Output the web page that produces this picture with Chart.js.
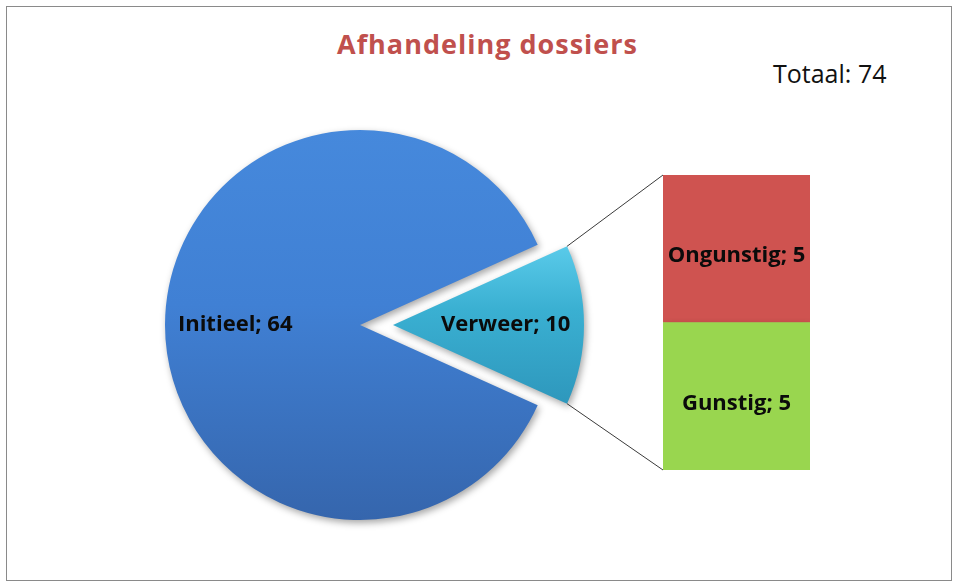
<!DOCTYPE html>
<html>
<head>
<meta charset="utf-8">
<title>Afhandeling dossiers</title>
<script src="https://cdn.jsdelivr.net/npm/chart.js@4.4.1/dist/chart.umd.min.js"></script>
<style>
	html, body { margin: 0; padding: 0; background: #fff; }
	#wrap { position: relative; width: 958px; height: 583px; overflow: hidden; }
	#frame { position: absolute; left: 6px; top: 6px; width: 944px; height: 573px; border: 1px solid #8a8a8a; }
	#wrap canvas { position: absolute; left: 0; top: 0; }
	#title { position: absolute; left: 0; width: 975px; top: 25px; text-align: center; letter-spacing: 1px;
		font: bold 27px "Open Sans", Lato, sans-serif; color: #C0504D; }
	#total { position: absolute; left: 773px; top: 56px; font: 25px "Open Sans", Lato, sans-serif; color: #111; }
</style>
</head>
<body>
<div id="wrap">
	<div id="frame"></div>
	<div id="title"></div>
	<div id="total"></div>
	<canvas id="pie-main" width="958" height="583"></canvas>
	<canvas id="pie-split" width="958" height="583"></canvas>
	<canvas id="bar-split" width="958" height="583"></canvas>
</div>
<script>
// :: data
var chartTitle = 'Afhandeling dossiers';
var totalText = 'Totaal';
var pieLabels = ['Initieel', 'Verweer'];
var pieValues = [64, 10];
var barLabels = ['Gunstig', 'Ongunstig'];
var barValues = [5, 5];

// :: 1.0 Helpers
// :: 2.0 Pie (Initieel)
// :: 3.0 Pie (Verweer, uitgetrokken)
// :: 4.0 Bar of pie

(function () {
	'use strict';

	var total = pieValues.reduce(function (a, b) { return a + b; }, 0);
	var barTotal = barValues.reduce(function (a, b) { return a + b; }, 0);
	// verweer gecentreerd op 3 uur
	var rotation = 90 + 180 * pieValues[1] / total;
	var font = '"Open Sans", Lato, sans-serif';

	document.getElementById('title').textContent = chartTitle;
	document.getElementById('total').textContent = totalText + ': ' + total;

	// :: 1.0 Helpers
	function gradient(chart, y0, y1, stops) {
		var g = chart.ctx.createLinearGradient(0, y0, 0, y1);
		stops.forEach(function (s) { g.addColorStop(s[0], s[1]); });
		return g;
	}

	var shadow = {
		id: 'shadow',
		beforeDatasetsDraw: function (chart) {
			var ctx = chart.ctx;
			ctx.save();
			ctx.shadowColor = 'rgba(0, 0, 0, 0.35)';
			ctx.shadowBlur = 7;
			ctx.shadowOffsetX = 2;
			ctx.shadowOffsetY = 3;
		},
		afterDatasetsDraw: function (chart) {
			chart.ctx.restore();
		}
	};

	function pieLabel(index, factor) {
		return {
			id: 'pieLabel' + index,
			afterDraw: function (chart) {
				var arc = chart.getDatasetMeta(0).data[index];
				var mid = (arc.startAngle + arc.endAngle) / 2;
				var r = arc.outerRadius * factor;
				var ctx = chart.ctx;
				ctx.save();
				ctx.font = 'bold 22px ' + font;
				ctx.fillStyle = '#0b0b0b';
				ctx.textAlign = 'center';
				ctx.textBaseline = 'middle';
				ctx.fillText(pieLabels[index] + '; ' + pieValues[index], arc.x + Math.cos(mid) * r, arc.y + Math.sin(mid) * r);
				ctx.restore();
			}
		};
	}

	// :: 2.0 Pie (Initieel)
	new Chart(document.getElementById('pie-main'), {
		type: 'pie',
		data: {
			labels: pieLabels,
			datasets: [{
				data: pieValues,
				backgroundColor: function (c) {
					if (c.dataIndex !== 0) return 'rgba(0,0,0,0)';
					var a = c.chart.chartArea;
					if (!a) return '#4281D6';
					return gradient(c.chart, a.top, a.bottom, [[0, '#4689DC'], [0.45, '#4080D4'], [1, '#3565AC']]);
				},
				borderWidth: 0
			}]
		},
		options: {
			responsive: false,
			animation: false,
			rotation: rotation,
			radius: 195,
			layout: { padding: { left: 160, right: 398, top: 125, bottom: 58 } },
			plugins: { legend: { display: false }, tooltip: { enabled: false } },
			events: []
		},
		plugins: [shadow, pieLabel(0, 0.64)]
	});

	// :: 3.0 Pie (Verweer, uitgetrokken)
	var pieSplit = new Chart(document.getElementById('pie-split'), {
		type: 'pie',
		data: {
			labels: pieLabels,
			datasets: [{
				data: pieValues,
				backgroundColor: function (c) {
					if (c.dataIndex !== 1) return 'rgba(0,0,0,0)';
					var a = c.chart.chartArea;
					if (!a) return '#36A9C8';
					var cy = (a.top + a.bottom) / 2;
					return gradient(c.chart, cy - 80, cy + 80, [[0, '#5ACBEA'], [0.4, '#3AB0D2'], [1, '#2E97BC']]);
				},
				borderWidth: 0
			}]
		},
		options: {
			responsive: false,
			animation: false,
			rotation: rotation,
			radius: 191,
			layout: { padding: { left: 193, right: 365, top: 125, bottom: 58 } },
			plugins: { legend: { display: false }, tooltip: { enabled: false } },
			events: []
		},
		plugins: [shadow, pieLabel(1, 0.59)]
	});

	// :: 4.0 Bar of pie
	var barColors = [
		[[0, '#A8E262'], [0.05, '#99D64F'], [1, '#92CF49']],
		[[0, '#DA6A66'], [0.05, '#CF5350'], [1, '#C94D4A']]
	];

	var connectors = {
		id: 'connectors',
		afterDatasetsDraw: function (chart) {
			var arc = pieSplit.getDatasetMeta(0).data[1];
			var low = chart.getDatasetMeta(0).data[0];
			var high = chart.getDatasetMeta(1).data[0];
			var r = arc.outerRadius;
			var ctx = chart.ctx;
			ctx.save();
			ctx.strokeStyle = '#3a3a3a';
			ctx.lineWidth = 1;
			ctx.beginPath();
			ctx.moveTo(arc.x + Math.cos(arc.startAngle) * r, arc.y + Math.sin(arc.startAngle) * r);
			ctx.lineTo(high.x - high.width / 2, high.y);
			ctx.moveTo(arc.x + Math.cos(arc.endAngle) * r, arc.y + Math.sin(arc.endAngle) * r);
			ctx.lineTo(low.x - low.width / 2, low.base);
			ctx.stroke();
			ctx.restore();
		},
		afterDraw: function (chart) {
			var ctx = chart.ctx;
			ctx.save();
			ctx.font = 'bold 22px ' + font;
			ctx.fillStyle = '#0b0b0b';
			ctx.textAlign = 'center';
			ctx.textBaseline = 'middle';
			chart.data.datasets.forEach(function (ds, i) {
				var bar = chart.getDatasetMeta(i).data[0];
				ctx.fillText(ds.label + '; ' + ds.data[0], bar.x, (bar.y + bar.base) / 2 + 7);
			});
			ctx.restore();
		}
	};

	new Chart(document.getElementById('bar-split'), {
		type: 'bar',
		data: {
			labels: [''],
			datasets: barLabels.map(function (label, i) {
				return {
					label: label,
					data: [barValues[i]],
					backgroundColor: function (c) {
						var el = c.chart.getDatasetMeta(c.datasetIndex).data[0];
						if (!el || el.y === undefined) return barColors[i][1][1];
						return gradient(c.chart, el.y, el.base, barColors[i]);
					},
					borderWidth: 0,
					barPercentage: 1,
					categoryPercentage: 1
				};
			})
		},
		options: {
			responsive: false,
			animation: false,
			layout: { padding: { left: 663, right: 148, top: 175, bottom: 113 } },
			scales: {
				x: { stacked: true, display: false },
				y: { stacked: true, display: false, min: 0, max: barTotal }
			},
			plugins: { legend: { display: false }, tooltip: { enabled: false } },
			events: []
		},
		plugins: [shadow, connectors]
	});

}());
</script>
</body>
</html>
